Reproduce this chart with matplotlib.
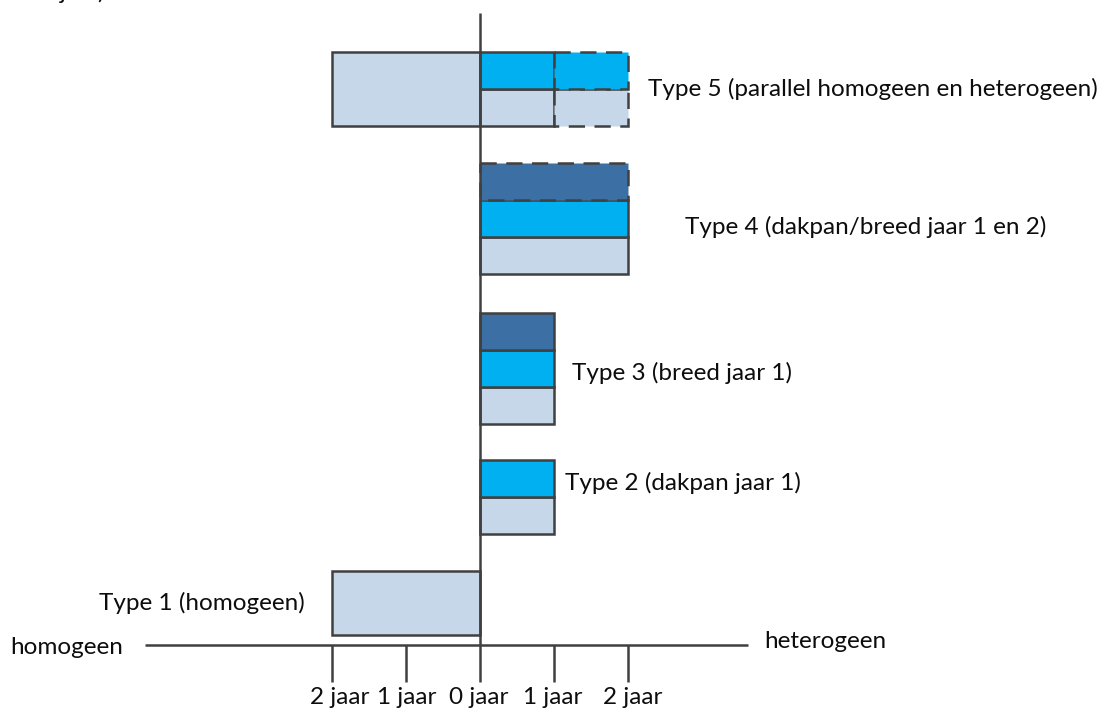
import matplotlib
matplotlib.use("Agg")
import matplotlib.pyplot as plt

# ---------------- data ----------------
type_labels = ["Type 1 (homogeen)", "Type 2 (dakpan jaar 1)", "Type 3 (breed jaar 1)",
               "Type 4 (dakpan/breed jaar 1 en 2)", "Type 5 (parallel homogeen en heterogeen)"]
homogeen_jaar = [2, 0, 0, 0, 2]        # years to the left (homogeneous)
licht_jaar = [0, 1, 1, 2, 1]           # light blue, solid
licht_extra = [0, 0, 0, 0, 1]          # light blue, dashed (optional)
fel_jaar = [0, 1, 1, 2, 1]             # bright blue, solid
fel_extra = [0, 0, 0, 0, 1]            # bright blue, dashed (optional)
donker_jaar = [0, 0, 1, 0, 0]          # dark blue, solid
donker_extra = [0, 0, 0, 2, 0]         # dark blue, dashed (optional)
tick_values = [-2, -1, 0, 1, 2]
tick_labels = ["2 jaar", "1 jaar", "0 jaar", "1 jaar", "2 jaar"]
left_label = "homogeen"
right_label = "heterogeen"

# ---------------- layout ----------------
W, H = 1103, 715
X0, PX = 480, 74              # pixel of 0 jaar, pixels per year
row_bottom = [635, 534, 424, 274, 126]
seg_h = 37
homog_h = [64, 0, 0, 0, 74]
tick_label_shift_px = [8, 1, -1, -1, 5]

C_LIGHT = "#C5D7E8"
C_BRIGHT = "#00B0F0"
C_DARK = "#3C6FA3"
EDGE = "#404040"
LW = 1.8
DASH = (0, (6.5, 3.8))
TXT = "#0d0d0d"

plt.rcParams["font.family"] = ["Lato", "DejaVu Sans"]
FS = 17.5

fig = plt.figure(figsize=(W / 100, H / 100), dpi=100)
ax = fig.add_axes([0, 0, 1, 1])
ax.set_xlim(-X0 / PX, (W - X0) / PX)
ax.set_ylim(H, 0)
ax.axis("off")


def bar(left, width, bottom, height, color, dashed=False):
    if width == 0:
        return
    ax.barh(bottom - height, width, left=left, height=height, align="edge",
            color=color, edgecolor=EDGE, linewidth=LW,
            linestyle=DASH if dashed else "solid", zorder=4 if dashed else 3)


for i in range(len(type_labels)):
    b = row_bottom[i]
    bar(-homogeen_jaar[i], homogeen_jaar[i], b, homog_h[i], C_LIGHT)
    level = 0
    for solid, extra, col in [(licht_jaar[i], licht_extra[i], C_LIGHT),
                              (fel_jaar[i], fel_extra[i], C_BRIGHT),
                              (donker_jaar[i], donker_extra[i], C_DARK)]:
        if solid == 0 and extra == 0:
            continue
        yb = b - level * seg_h
        bar(0, solid, yb, seg_h, col)
        bar(solid, extra, yb, seg_h, col, dashed=True)
        level += 1

# axes lines
AX_Y = 645
ax.plot([(145 - X0) / PX, (748 - X0) / PX], [AX_Y, AX_Y], color=EDGE, lw=LW, zorder=5,
        solid_capstyle="butt")
ax.plot([0, 0], [13, AX_Y], color=EDGE, lw=LW, zorder=5, solid_capstyle="butt")
for t, lab, s in zip(tick_values, tick_labels, tick_label_shift_px):
    ax.plot([t, t], [AX_Y, 682], color=EDGE, lw=LW, zorder=5, solid_capstyle="butt")
    ax.text(t + s / PX, 698, lab, ha="center", va="center", fontsize=FS, color=TXT)

ax.text((10 - X0) / PX, 647, left_label, ha="left", va="center", fontsize=FS, color=TXT)
ax.text((764 - X0) / PX, 641, right_label, ha="left", va="center", fontsize=FS, color=TXT)

# type labels
label_pos = [((305 - X0) / PX, 603, "right"), ((565 - X0) / PX, 483, "left"),
             ((572 - X0) / PX, 373, "left"), ((685 - X0) / PX, 227, "left"),
             ((648 - X0) / PX, 89, "left")]
for (x, y, ha), lab in zip(label_pos, type_labels):
    ax.text(x, y, lab, ha=ha, va="center", fontsize=FS, color=TXT)

# text clipped at the top edge, as in the source figure
ax.text((60 - X0) / PX, -1, "jaar)", ha="left", va="baseline", fontsize=FS, color=TXT)

fig.savefig("out.png", dpi=100)
